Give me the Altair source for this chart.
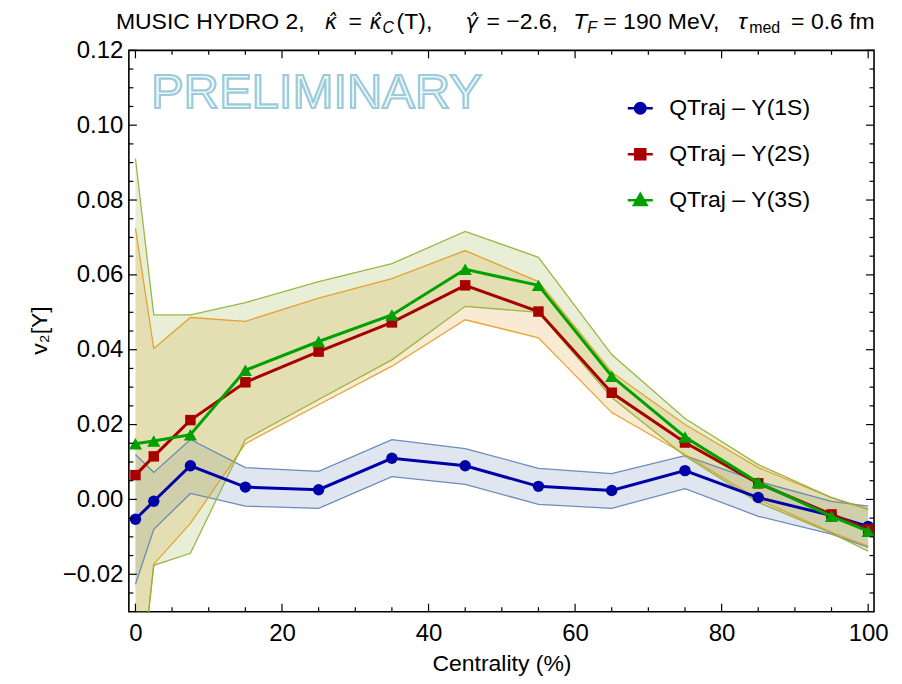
import altair as alt
import pandas as pd

# ---------------- data ----------------
centrality = [0, 2.5, 7.5, 15, 25, 35, 45, 55, 65, 75, 85, 95, 100]

v2_1s = [-0.0053, -0.0005, 0.0090, 0.0033, 0.0026, 0.0110, 0.0090, 0.0035, 0.0024, 0.0077, 0.0005, -0.0043, -0.0072]
hi_1s = [0.0120, 0.0072, 0.0160, 0.0085, 0.0075, 0.0160, 0.0136, 0.0083, 0.0069, 0.0117, 0.0048, -0.0005, -0.0018]
lo_1s = [-0.0227, -0.0080, 0.0016, -0.0018, -0.0024, 0.0061, 0.0040, -0.0013, -0.0024, 0.0029, -0.0045, -0.0093, -0.0128]

v2_2s = [0.0065, 0.0115, 0.0212, 0.0313, 0.0395, 0.0473, 0.0572, 0.0502, 0.0285, 0.0152, 0.0043, -0.0040, -0.0080]
hi_2s = [0.0725, 0.0403, 0.0486, 0.0476, 0.0538, 0.0590, 0.0665, 0.0582, 0.0340, 0.0200, 0.0085, 0.0005, -0.0027]
lo_2s = [-0.0620, -0.0173, -0.0064, 0.0149, 0.0253, 0.0356, 0.0480, 0.0432, 0.0232, 0.0120, 0.0000, -0.0088, -0.0125]

v2_3s = [0.0149, 0.0156, 0.0173, 0.0345, 0.0422, 0.0493, 0.0615, 0.0572, 0.0329, 0.0167, 0.0045, -0.0045, -0.0085]
hi_3s = [0.0911, 0.0493, 0.0493, 0.0526, 0.0582, 0.0630, 0.0716, 0.0647, 0.0387, 0.0216, 0.0093, 0.0005, -0.0025]
lo_3s = [-0.0620, -0.0176, -0.0144, 0.0160, 0.0267, 0.0373, 0.0516, 0.0500, 0.0272, 0.0116, -0.0008, -0.0090, -0.0138]

series_names = ["QTraj – Υ(1S)", "QTraj – Υ(2S)", "QTraj – Υ(3S)"]

x_major = [0, 20, 40, 60, 80, 100]
x_minor = [5, 10, 15, 25, 30, 35, 45, 50, 55, 65, 70, 75, 85, 90, 95]
y_major = [-0.02, 0.0, 0.02, 0.04, 0.06, 0.08, 0.10, 0.12]
y_minor = [-0.025, -0.015, -0.01, -0.005, 0.005, 0.01, 0.015, 0.025, 0.03, 0.035,
           0.045, 0.05, 0.055, 0.065, 0.07, 0.075, 0.085, 0.09, 0.095, 0.105, 0.11, 0.115]

# ---------------- styling ----------------
FONT = "Liberation Sans"
GREEK = "DejaVu Sans"
W, H = 746, 562
line_colors = ["#0000A8", "#A80000", "#00A000"]
band_colors = ["#5E81B5", "#E19C24", "#8FB032"]
shapes = ["circle", "square", "triangle-up"]
sizes = [130, 110, 175]
legend_paths = [
    "M-1,0H1M0.42,0A0.42,0.42,0,1,1,-0.42,0A0.42,0.42,0,1,1,0.42,0Z",
    "M-1,0H1M-0.4,-0.4H0.4V0.4H-0.4Z",
    "M-1,0H1M0,-0.5L0.5,0.38H-0.5Z",
]

xscale = alt.Scale(domain=[-0.9, 100.8], nice=False, zero=False)
yscale = alt.Scale(domain=[-0.03, 0.12], nice=False, zero=False)

xaxis = alt.Axis(values=x_major, ticks=False, domain=False, grid=False,
                 labelFont=FONT, labelFontSize=24, labelColor="black", labelPadding=10,
                 title="Centrality (%)", titleFont=FONT, titleFontSize=23,
                 titleFontWeight="normal", titleColor="black",
                 titleY=59, titleBaseline="alphabetic")
yaxis = alt.Axis(values=y_major, format=".2f", ticks=False, domain=False, grid=False,
                 labelFont=FONT, labelFontSize=24, labelColor="black", labelPadding=6,
                 title="v₂[Υ]", titleFont=FONT, titleFontSize=23,
                 titleFontWeight="normal", titleColor="black",
                 titleX=-89, titleY=280, titleAngle=270, titleAlign="center",
                 titleBaseline="middle")


def X(field):
    return alt.X(f"{field}:Q", scale=xscale, axis=xaxis)


def Y(field):
    return alt.Y(f"{field}:Q", scale=yscale, axis=yaxis)


means = [v2_1s, v2_2s, v2_3s]
his = [hi_1s, hi_2s, hi_3s]
los = [lo_1s, lo_2s, lo_3s]

frames = []
for name, m, h, l in zip(series_names, means, his, los):
    frames.append(pd.DataFrame({"series": name, "c": centrality, "v": m, "hi": h, "lo": l}))
df = pd.concat(frames, ignore_index=True)

layers = []
# bands
for i, name in enumerate(series_names):
    d = df[df.series == name]
    layers.append(alt.Chart(d).mark_area(clip=True, color=band_colors[i], opacity=0.2)
                  .encode(x=X("c"), y=Y("lo"), y2=alt.Y2("hi:Q")))
for i, name in enumerate(series_names):
    d = df[df.series == name]
    for f in ["hi", "lo"]:
        layers.append(alt.Chart(d).mark_line(clip=True, color=band_colors[i], strokeWidth=1.3, opacity=0.9)
                      .encode(x=X("c"), y=Y(f)))
# lines + markers
for i, name in enumerate(series_names):
    d = df[df.series == name]
    base = alt.Chart(d)
    layers.append(base.mark_line(color=line_colors[i], strokeWidth=3)
                  .encode(x=X("c"), y=Y("v")))
    layers.append(base.mark_point(filled=True, shape=shapes[i], size=sizes[i],
                                  color=line_colors[i], opacity=1)
                  .encode(x=X("c"), y=Y("v")))

# legend-only layer (invisible marks, visible legend)
leg = alt.Legend(orient="none", legendX=498, legendY=44, title=None, padding=0,
                 labelFont=FONT, labelFontSize=23, labelColor="black", labelOffset=15,
                 labelLimit=0, rowPadding=20, symbolSize=625, symbolStrokeWidth=2.5,
                 symbolOpacity=1)
layers.append(
    alt.Chart(df).mark_point(opacity=0).encode(
        x=X("c"), y=Y("v"),
        fill=alt.Fill("series:N", scale=alt.Scale(domain=series_names, range=line_colors), legend=leg),
        stroke=alt.Stroke("series:N", scale=alt.Scale(domain=series_names, range=line_colors), legend=leg),
        shape=alt.Shape("series:N", scale=alt.Scale(domain=series_names, range=legend_paths), legend=leg),
    )
)


# inward frame ticks
def vticks(vals, length, top):
    d = pd.DataFrame({"c": vals})
    y0, y1 = (0, length) if top else (H, H - length)
    return alt.Chart(d).mark_rule(color="black", strokeWidth=1.2).encode(
        x=X("c"), y=alt.value(y0), y2=alt.value(y1))


def hticks(vals, length, right):
    d = pd.DataFrame({"v": vals})
    x0, x1 = (W, W - length) if right else (0, length)
    return alt.Chart(d).mark_rule(color="black", strokeWidth=1.2).encode(
        y=Y("v"), x=alt.value(x0), x2=alt.value(x1))


for top in (False, True):
    layers.append(vticks(x_major, 8, top))
    layers.append(vticks(x_minor, 4.5, top))
for right in (False, True):
    layers.append(hticks(y_major, 8, right))
    layers.append(hticks(y_minor, 4.5, right))

# PRELIMINARY watermark
layers.append(
    alt.Chart(pd.DataFrame({"t": ["PRELIMINARY"]})).mark_text(
        font=FONT, fontSize=49, fill="#EEF7FA", stroke="#9CCCDA", strokeWidth=2.2,
        align="center", baseline="middle"
    ).encode(text="t:N", x=alt.value(188), y=alt.value(43))
)

# title built from pieces (subscripts / italics / hats)
# (text, font, style, size, x, baseline-y) in page pixels
title_pieces = [
    ("MUSIC HYDRO 2,", FONT, "normal", 23, 116, 29),
    ("κ\u0302", GREEK, "italic", 21, 325, 29),
    ("=", FONT, "normal", 23, 349, 29),
    ("κ\u0302", GREEK, "italic", 21, 370, 29),
    ("C", FONT, "italic", 16, 383, 33),
    ("(T),", FONT, "normal", 23, 397, 29),
    ("γ\u0302", GREEK, "italic", 21, 466, 29),
    ("= −2.6,", FONT, "normal", 23, 487, 29),
    ("T", FONT, "italic", 23, 574, 29),
    ("F", FONT, "italic", 16, 588, 33),
    ("= 190 MeV,", FONT, "normal", 23, 604, 29),
    ("τ", FONT, "italic", 23, 739, 29),
    ("med", FONT, "normal", 16, 750, 33),
    ("= 0.6 fm", FONT, "normal", 23, 792, 29),
]
for txt, fnt, style, fs, px, py in title_pieces:
    layers.append(
        alt.Chart(pd.DataFrame({"t": [txt]})).mark_text(
            font=fnt, fontSize=fs, fontStyle=style, color="black",
            align="left", baseline="alphabetic"
        ).encode(text="t:N", x=alt.value(px - 129), y=alt.value(py - 50))
    )

chart = alt.layer(*layers).properties(
    width=W, height=H,
    autosize=alt.AutoSizeParams(type="none"),
    padding={"left": 121, "top": 42, "right": 20, "bottom": 64},
    background="white",
).configure_view(stroke="black", strokeWidth=1.6)

chart.save("out.html", embed_options={"renderer": "svg", "actions": False})
